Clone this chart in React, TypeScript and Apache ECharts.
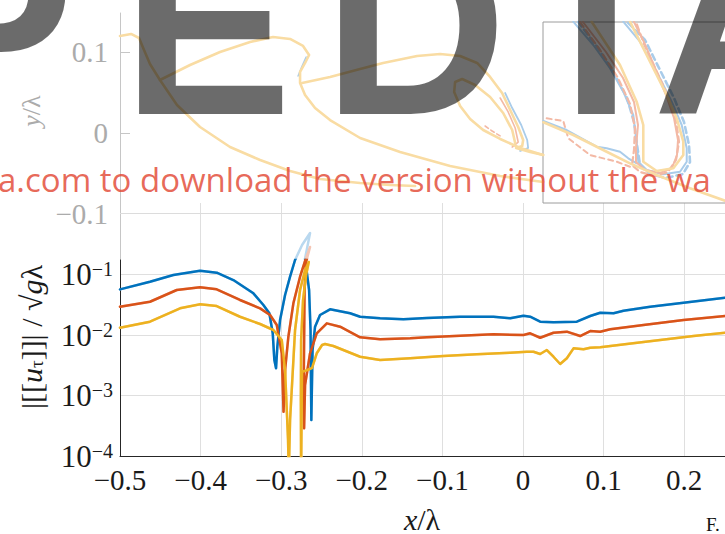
import React, { useEffect, useRef } from 'react';
import * as echarts from 'echarts';

// ---------- axis ticks ----------
const profileTicks = [-0.1, 0, 0.1];
const decadeExponents = [-4, -3, -2, -1];

// ---------- bottom panel: log10(|[[u_tau]]| / sqrt(g lambda)) vs x/lambda ----------
const blueJump: [number, number][] = [
  [-0.5, -1.245], [-0.4628, -1.119], [-0.4338, -1.008], [-0.4007, -0.937], [-0.38, -0.97],
  [-0.3594, -1.091], [-0.3345, -1.311], [-0.3221, -1.504], [-0.3147, -1.641], [-0.3105, -1.972],
  [-0.3085, -2.413], [-0.3064, -2.55], [-0.3048, -2.193], [-0.3014, -1.752], [-0.2952, -1.339],
  [-0.289, -1.036], [-0.2828, -0.76], [-0.2741, -0.512], [-0.2642, -0.314], [-0.2704, -0.736],
  [-0.2654, -1.256], [-0.2636, -1.917], [-0.2626, -3.405], [-0.2611, -2.248], [-0.258, -1.863],
  [-0.2518, -1.669], [-0.2394, -1.575], [-0.2145, -1.641], [-0.2021, -1.698], [-0.1773, -1.724],
  [-0.1484, -1.74], [-0.1193, -1.719], [-0.078, -1.698], [-0.0367, -1.698], [-0.0159, -1.724],
  [0.0006, -1.681], [0.0089, -1.698], [0.0213, -1.78], [0.0378, -1.79], [0.0668, -1.78],
  [0.0834, -1.686], [0.0958, -1.631], [0.1123, -1.641], [0.1247, -1.598], [0.1578, -1.532],
  [0.1992, -1.466], [0.2508, -1.383],
];
const redJump: [number, number][] = [
  [-0.5, -1.532], [-0.4628, -1.45], [-0.4296, -1.256], [-0.4007, -1.212], [-0.38, -1.245],
  [-0.3511, -1.421], [-0.3262, -1.559], [-0.3138, -1.669], [-0.3055, -1.835], [-0.2993, -2.302],
  [-0.2971, -3.268], [-0.2952, -2.579], [-0.2911, -2.028], [-0.2849, -1.476], [-0.2766, -1.036],
  [-0.27, -0.76], [-0.2642, -0.545], [-0.2691, -0.793], [-0.271, -1.256], [-0.2719, -2.579],
  [-0.2716, -3.542], [-0.2704, -2.826], [-0.2642, -2.302], [-0.2559, -1.972], [-0.2434, -1.807],
  [-0.2269, -1.863], [-0.2021, -2.038], [-0.1773, -2.071], [-0.1401, -2.055], [-0.1193, -2.038],
  [-0.078, -2.012], [-0.0367, -1.988], [0.0006, -2.0], [0.0089, -1.972], [0.0213, -2.045],
  [0.0378, -1.962], [0.0544, -1.945], [0.0709, -2.017], [0.0834, -1.934], [0.0958, -1.945],
  [0.1082, -1.906], [0.1495, -1.835], [0.1992, -1.752], [0.2508, -1.686],
];
const yellowJump: [number, number][] = [
  [-0.5, -1.879], [-0.4628, -1.78], [-0.4255, -1.559], [-0.4007, -1.493], [-0.38, -1.521],
  [-0.3511, -1.698], [-0.3262, -1.818], [-0.3097, -1.917], [-0.2993, -2.083], [-0.2952, -2.579],
  [-0.2915, -3.736], [-0.2906, -4.3], [-0.289, -3.405], [-0.2828, -1.917], [-0.2766, -1.256],
  [-0.2704, -0.926], [-0.2658, -0.793], [-0.2691, -1.008], [-0.2729, -1.421], [-0.2753, -2.083],
  [-0.2756, -3.074], [-0.2753, -4.3], [-0.2743, -2.744], [-0.2741, -2.607], [-0.2691, -2.587],
  [-0.2617, -2.545], [-0.2559, -2.302], [-0.2493, -2.165], [-0.2456, -2.149], [-0.2353, -2.182],
  [-0.2021, -2.359], [-0.1773, -2.413], [-0.1401, -2.385], [-0.0987, -2.347], [-0.0573, -2.319],
  [-0.0159, -2.293], [0.0048, -2.276], [0.013, -2.276], [0.0213, -2.314], [0.0296, -2.248],
  [0.0378, -2.359], [0.0461, -2.479], [0.0544, -2.385], [0.0627, -2.22], [0.0751, -2.236],
  [0.0834, -2.21], [0.0958, -2.203], [0.1289, -2.149], [0.1702, -2.083], [0.2116, -2.017],
  [0.2508, -1.962],
];

// ---------- top panel: free-surface profiles y/lambda vs x/lambda ----------
const profileCrestTrough: [number, number][] = [
  [-0.5, 0.1204], [-0.4863, 0.1229], [-0.4764, 0.1179], [-0.4702, 0.103], [-0.4628, 0.0856],
  [-0.4504, 0.0658], [-0.4293, 0.0348], [-0.4007, 0.0074], [-0.3635, -0.0174], [-0.3262, -0.0335],
  [-0.289, -0.0472], [-0.2518, -0.0571], [-0.2021, -0.0621], [-0.1649, -0.0645], [-0.1339, -0.0658],
];
const profileUpper: [number, number][] = [
  [-0.4504, 0.0658], [-0.4131, 0.0844], [-0.3759, 0.1005], [-0.3386, 0.1129], [-0.3101, 0.1192],
  [-0.289, 0.1167], [-0.2729, 0.108], [-0.2654, 0.0968], [-0.2704, 0.0869], [-0.2766, 0.0757],
  [-0.2766, 0.0621], [-0.2704, 0.0472], [-0.258, 0.031], [-0.2394, 0.0161], [-0.2021, -0.0062],
  [-0.1525, -0.0236], [-0.0904, -0.041], [-0.0283, -0.0534], [0.025, -0.0608],
];
const profileJet: [number, number][] = [
  [-0.2741, 0.0621], [-0.2394, 0.0695], [-0.2021, 0.0794], [-0.1736, 0.0869], [-0.1314, 0.0956],
  [-0.1028, 0.0981], [-0.078, 0.0956], [-0.0569, 0.0869], [-0.0408, 0.0695], [-0.0259, 0.0496],
  [-0.0159, 0.0285], [-0.006, 0.0074], [0.0002, -0.0087], [-0.001, -0.0161], [-0.0085, -0.0186],
  [0.0089, -0.0236], [0.025, -0.0273],
];
const profileLoop: [number, number][] = [
  [-0.0097, -0.0124], [-0.0134, 0.0037], [-0.0246, 0.0248], [-0.0408, 0.0447], [-0.0594, 0.0596],
  [-0.0755, 0.067], [-0.0842, 0.0633], [-0.0854, 0.0509], [-0.078, 0.0335], [-0.0656, 0.0174],
  [-0.0494, 0.0037], [-0.0283, -0.0074], [-0.0035, -0.0186], [0.025, -0.0273],
];
const profileBlueTip: [number, number][] = [
  [-0.0221, 0.0496], [-0.0134, 0.031], [-0.0022, 0.0099], [0.0052, -0.0087], [0.0064, -0.0186], [-0.0035, -0.0223],
];
const profileBlueBulge: [number, number][] = [
  [-0.2691, 0.0943], [-0.2741, 0.0832], [-0.2791, 0.0708],
];
const profileRedTip: [number, number][] = [
  [-0.0283, 0.0434], [-0.0184, 0.0261], [-0.0097, 0.0062], [-0.006, -0.0112], [-0.0134, -0.0174],
];
const profileRedDashTip: [number, number][] = [
  [-0.047, 0.0087], [-0.0383, 0.0025], [-0.0283, -0.0037],
];

// ---------- inset (zoom of the jet tip) ----------
const insetSurface: [number, number][] = [
  [-0.0299, -0.00982], [-0.02243, -0.013], [-0.01408, -0.01718], [-0.00825, -0.02008],
  [-0.00158, -0.023], [0.00675, -0.02633], [0.0155, -0.02943], [0.02425, -0.03225],
];
const insetBlueSurface: [number, number][] = [
  [-0.0299, -0.0095], [-0.02408, -0.01175], [-0.01658, -0.01593], [-0.01408, -0.01633],
  [-0.01075, -0.01718], [-0.00868, -0.01883], [-0.00658, -0.02008],
];
const insetRedDashSurface: [number, number][] = [
  [-0.02908, -0.00883], [-0.02493, -0.0095], [-0.02368, -0.01383], [-0.01825, -0.018],
  [-0.01158, -0.01968], [-0.00825, -0.02093],
];
const insetYellowJet: [number, number][] = [
  [-0.01783, 0.01533], [-0.01075, 0.0045], [-0.00658, -0.00468], [-0.00493, -0.0105],
  [-0.00493, -0.01968], [-0.00158, -0.022], [0.00258, -0.02133], [0.00508, -0.018],
  [0.00508, -0.01468], [0.00343, -0.00883], [0.00093, -0.003], [-0.00243, 0.00368],
  [-0.00575, 0.01033], [-0.00825, 0.01533],
];
const insetBlueJet: [number, number][] = [
  [-0.02243, 0.01533], [-0.01743, 0.0095], [-0.01325, 0.00368], [-0.00993, -0.00218],
  [-0.00743, -0.008], [-0.00658, -0.01468], [-0.00618, -0.01968], [-0.00408, -0.02175],
  [0.00008, -0.02283], [0.00425, -0.02218], [0.00593, -0.01968], [0.00593, -0.01633],
  [0.00468, -0.0105], [0.00218, -0.00468], [-0.00118, 0.002], [-0.00575, 0.01033], [-0.00993, 0.01533],
];
const insetBlueDashJet: [number, number][] = [
  [-0.02125, 0.01533], [-0.01625, 0.00875], [-0.01225, 0.0025], [-0.009, -0.00375],
  [-0.00725, -0.00975], [-0.0065, -0.0155], [-0.00575, -0.0205], [-0.00325, -0.02275],
  [0.00075, -0.02375], [0.005, -0.02275], [0.00675, -0.01975], [0.0065, -0.0155],
  [0.00525, -0.00975], [0.00275, -0.00375], [-0.00075, 0.00325], [-0.0045, 0.01075], [-0.009, 0.01533],
];
const insetRedJet: [number, number][] = [
  [-0.02, 0.01525], [-0.01425, 0.00775], [-0.01, 0.00125], [-0.00725, -0.00475],
  [-0.00625, -0.0105], [-0.00675, -0.01625], [-0.00675, -0.01975], [-0.0045, -0.02175],
  [-0.00075, -0.0225], [0.00225, -0.02125], [0.0035, -0.018], [0.00375, -0.01425],
  [0.00275, -0.00875], [0.00075, -0.003], [-0.002, 0.00375], [-0.00475, 0.01025], [-0.00725, 0.01525],
];
const insetRedDashJet: [number, number][] = [
  [-0.02075, 0.01525], [-0.01575, 0.00825], [-0.01125, 0.00125], [-0.00825, -0.00525],
  [-0.007, -0.01125], [-0.00725, -0.01675], [-0.00775, -0.0205], [-0.00575, -0.02225],
  [-0.002, -0.02325], [0.00125, -0.02225], [0.00325, -0.01925], [0.004, -0.01475],
  [0.00325, -0.00925], [0.00125, -0.00325], [-0.00175, 0.00325], [-0.00475, 0.00975], [-0.00675, 0.01525],
];

const C_BLUE = '#0072BD';
const C_RED = '#D95319';
const C_YEL = '#EDB120';
const F_BLUE = '#A9CCEA';
const F_RED = '#F3B9A5';
const F_YEL = '#F9DCA3';
const SERIF = 'Liberation Serif';

function line(name: string, data: [number, number][], grid: number, color: string, width: number, type: any = 'solid', z = 2, extra: any = {}) {
  return {
    name, type: 'line', data, xAxisIndex: grid, yAxisIndex: grid,
    showSymbol: false, symbol: 'none', silent: true, clip: true, z,
    lineStyle: { color, width, type, cap: 'round', join: 'round' },
    ...extra,
  };
}

const fmtX = (v: number) => {
  if (v > 0.25) return '';
  if (Math.abs(v) < 1e-9) return '0';
  return (v < 0 ? '\u2212' : '') + Math.abs(v).toFixed(1);
};
const fmtProfile = (v: number) => {
  for (const t of profileTicks) {
    if (Math.abs(v - t) < 1e-6) return t === 0 ? '0' : (t < 0 ? '\u2212' : '') + Math.abs(t).toFixed(1);
  }
  return '';
};
const fmtDecade = (v: number) => {
  const r = Math.round(v);
  if (Math.abs(v - r) > 1e-6 || !decadeExponents.includes(r)) return '';
  return `{b|10}{s|\u2212${-r}}`;
};

export default function App() {
  const ref = useRef<HTMLDivElement>(null);
  useEffect(() => {
    if (!ref.current) return;
    const chart = echarts.init(ref.current, undefined, { renderer: 'svg' });
    const hiddenX = (g: number) => ({ gridIndex: g, type: 'value', min: -0.5, max: 0.5, show: false });
    const gridBase = { outerBoundsMode: 'none', containLabel: false };
    const option: any = {
      animation: false,
      backgroundColor: '#ffffff',
      grid: [
        { ...gridBase, left: 120, top: 13, width: 806, height: 247 },
        { ...gridBase, left: 120, top: 203, width: 806, height: 253 },
        { ...gridBase, left: 120, top: 260, width: 806, height: 196 },
        { ...gridBase, left: 543, top: 22, width: 240, height: 181, show: true, backgroundColor: '#ffffff', borderColor: '#9c9c9c', borderWidth: 1, z: 3 },
      ],
      xAxis: [
        hiddenX(0),
        {
          gridIndex: 1, type: 'value', min: -0.5, max: 0.5, interval: 0.1,
          axisLine: { show: false }, axisTick: { show: false }, axisLabel: { show: false },
          splitLine: { show: true, lineStyle: { color: '#dfdfdf', width: 1 } },
        },
        {
          gridIndex: 2, type: 'value', min: -0.5, max: 0.5, interval: 0.1,
          axisLine: { show: true, onZero: false, lineStyle: { color: '#262626', width: 1 } },
          axisTick: { show: false },
          axisLabel: { formatter: fmtX, color: '#1a1a1a', fontSize: 29, fontFamily: SERIF, margin: 9, hideOverlap: false },
          splitLine: { show: false },
        },
        { gridIndex: 3, type: 'value', min: -0.03, max: 0.03, show: false },
      ],
      yAxis: [
        {
          gridIndex: 0, type: 'value', min: -0.1576, max: 0.1489, splitNumber: 3,
          axisLine: { show: true, onZero: false, lineStyle: { color: '#c6c6c6', width: 1 } },
          axisTick: { show: true, inside: true, length: 10, customValues: profileTicks, lineStyle: { color: '#c6c6c6' } },
          axisLabel: { customValues: profileTicks, formatter: fmtProfile, color: '#ababab', fontSize: 29, fontFamily: SERIF, margin: 12 },
          splitLine: { show: false },
        },
        { gridIndex: 1, type: 'value', min: -4, max: 0.1825, show: false },
        {
          gridIndex: 2, type: 'value', min: -4, max: -0.76, interval: 1,
          axisLine: { show: true, onZero: false, lineStyle: { color: '#262626', width: 1 } },
          axisTick: { show: false },
          axisLabel: {
            customValues: decadeExponents, formatter: fmtDecade, margin: 7, fontFamily: SERIF,
            rich: {
              b: { fontSize: 31, fontFamily: SERIF, color: '#1a1a1a' },
              s: { fontSize: 20, fontFamily: SERIF, color: '#1a1a1a', verticalAlign: 'top' },
            },
          },
          splitLine: { show: true, showMinLine: false, showMaxLine: false, lineStyle: { color: '#dfdfdf', width: 1 } },
        },
        { gridIndex: 3, type: 'value', min: -0.03, max: 0.01525, show: false },
      ],
      series: [
        // top panel
        line('blueBulge', profileBlueBulge, 0, F_BLUE, 1.5),
        line('blueTip', profileBlueTip, 0, F_BLUE, 1.8),
        line('redTip', profileRedTip, 0, F_RED, 1.6),
        line('redDashTip', profileRedDashTip, 0, F_RED, 1.6, [4, 3]),
        line('crestTrough', profileCrestTrough, 0, F_YEL, 2.6, 'solid', 3, {
          markLine: {
            silent: true, symbol: ['none', 'none'], label: { show: false }, animation: false,
            lineStyle: { color: '#dcdcdc', width: 1, type: 'solid' },
            data: [{ yAxis: -0.1 }],
          },
        }),
        line('upper', profileUpper, 0, F_YEL, 2.6, 'solid', 3),
        line('jet', profileJet, 0, F_YEL, 2.6, 'solid', 3),
        line('loop', profileLoop, 0, F_YEL, 2.6, 'solid', 3),
        // faded continuation above the bottom panel
        line('blueExt', blueJump, 1, '#B9D8EF', 2.5, 'solid', 1),
        line('redExt', redJump, 1, '#F5C6B5', 2.5, 'solid', 1),
        line('yellowExt', yellowJump, 1, '#F8DFA6', 2.5, 'solid', 1),
        // bottom panel
        line('blue', blueJump, 2, C_BLUE, 2.5),
        line('red', redJump, 2, C_RED, 2.5),
        line('yellow', yellowJump, 2, C_YEL, 2.5),
        // inset
        line('insRedDashSurf', insetRedDashSurface, 3, F_RED, 2, [5, 4], 5),
        line('insBlueSurf', insetBlueSurface, 3, F_BLUE, 2, 'solid', 5),
        line('insSurf', insetSurface, 3, F_YEL, 2.6, 'solid', 6),
        line('insBlueJet', insetBlueJet, 3, F_BLUE, 2, 'solid', 5),
        line('insBlueDashJet', insetBlueDashJet, 3, F_BLUE, 2.6, [6, 4], 5),
        line('insRedJet', insetRedJet, 3, F_RED, 2, 'solid', 5),
        line('insRedDashJet', insetRedDashJet, 3, F_RED, 2.2, [6, 4], 5),
        line('insYellowJet', insetYellowJet, 3, F_YEL, 2.6, 'solid', 6),
      ],
      graphic: [
        { type: 'text', x: 31, y: 111, rotation: Math.PI / 2, z: 50, silent: true,
          style: { text: '{i|y}{n|/\u03bb}', fontFamily: SERIF, fontSize: 26, align: 'center', verticalAlign: 'middle',
            rich: { i: { fontSize: 26, fontFamily: SERIF, fontStyle: 'italic', fill: '#ababab' }, n: { fontSize: 26, fontFamily: SERIF, fill: '#ababab' } } } },
        { type: 'text', x: 31, y: 337, rotation: Math.PI / 2, z: 50, silent: true,
          style: { text: '{n||[[}{i|u}{t|\u03c4}{n|]]| / \u221a}{i|g}{n|\u03bb}', fontFamily: SERIF, fontSize: 30, align: 'center', verticalAlign: 'middle',
            rich: {
              n: { fontSize: 30, fontFamily: SERIF, fill: '#1a1a1a' },
              i: { fontSize: 30, fontFamily: SERIF, fontStyle: 'italic', fill: '#1a1a1a' },
              t: { fontSize: 19, fontFamily: SERIF, fill: '#1a1a1a', verticalAlign: 'bottom' },
            } } },
        { type: 'text', x: 422, y: 519, z: 50, silent: true,
          style: { text: '{i|x}{n|/\u03bb}', fontFamily: SERIF, fontSize: 30, align: 'center', verticalAlign: 'middle',
            rich: { i: { fontSize: 30, fontFamily: SERIF, fontStyle: 'italic', fill: '#1a1a1a' }, n: { fontSize: 30, fontFamily: SERIF, fill: '#1a1a1a' } } } },
        { type: 'text', x: 706, y: 524, z: 50, silent: true,
          style: { text: 'F.', fontSize: 19, fontFamily: SERIF, fill: '#111111', verticalAlign: 'middle' } },
        // watermark
        ...[['P', -96], ['E', 122], ['D', 323], ['I', 561], ['A', 653]].map(([t, x]) => ({
          type: 'text', x: x as number, y: 25, z: 100, silent: true,
          style: { text: t as string, fontSize: 255, fontWeight: 'bold', fontFamily: 'Liberation Sans', fill: 'rgba(0,0,0,0.58)', verticalAlign: 'middle' },
        })),
        { type: 'text', x: -2, y: 179, z: 101, silent: true,
          style: { text: 'a.com to download the version without the wa', fontSize: 33, fontFamily: 'Open Sans', fill: 'rgba(226,72,52,0.82)', verticalAlign: 'middle' } },
      ],
    };
    chart.setOption(option);
    return () => chart.dispose();
  }, []);
  return <div ref={ref} style={{ position: 'absolute', left: 0, top: 0, width: 725, height: 534 }} />;
}
